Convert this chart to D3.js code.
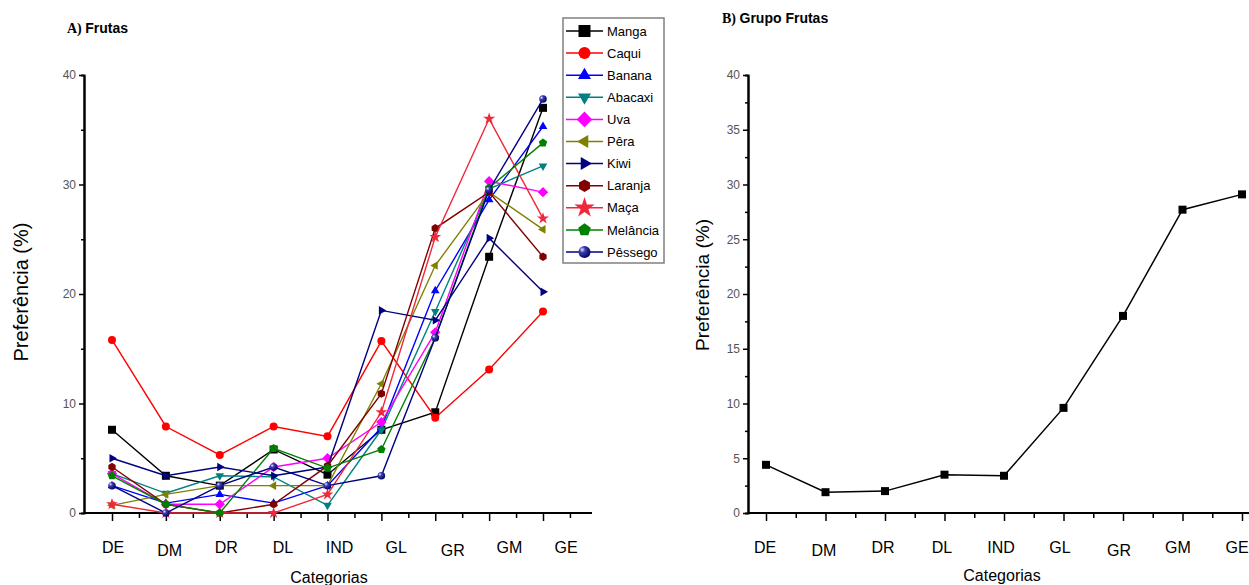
<!DOCTYPE html>
<html>
<head>
<meta charset="utf-8">
<script src="https://cdn.jsdelivr.net/npm/d3@7"></script>
<style>
  body { margin: 0; background: #fff; }
  svg { font-family: "Liberation Sans", Arial, sans-serif; }
</style>
</head>
<body>
<div id="main"></div>
<script>
// categories on the x axis (both panels)
const categories = ["DE", "DM", "DR", "DL", "IND", "GL", "GR", "GM", "GE"];

// panel A: preference (%) per fruit, one value per category
const fruitNames = ["Manga", "Caqui", "Banana", "Abacaxi", "Uva", "Pêra", "Kiwi", "Laranja", "Maça", "Melância", "Pêssego"];
const manga    = [7.6, 3.4, 2.5, 5.8, 3.5, 7.6, 9.2, 23.4, 37.0];
const caqui    = [15.8, 7.9, 5.3, 7.9, 7.0, 15.7, 8.7, 13.1, 18.4];
const banana   = [2.5, 0.9, 1.7, 0.9, 2.5, 7.8, 20.3, 28.6, 35.3];
const abacaxi  = [3.6, 1.8, 3.4, 3.3, 0.7, 7.6, 18.4, 29.6, 31.7];
const uva      = [3.6, 0.8, 0.8, 4.2, 5.0, 8.3, 16.5, 30.3, 29.3];
const pera     = [0.7, 1.7, 2.5, 2.5, 2.5, 11.8, 22.6, 29.3, 25.9];
const kiwi     = [5.0, 3.4, 4.2, 3.4, 4.2, 18.5, 17.6, 25.1, 20.2];
const laranja  = [4.2, 0.8, 0.0, 0.8, 4.3, 10.9, 26.0, 29.3, 23.4];
const maca     = [0.8, 0.0, 0.0, 0.0, 1.7, 9.2, 25.2, 36.0, 26.9];
const melancia = [3.4, 0.8, 0.0, 5.9, 4.1, 5.8, 16.0, 29.7, 33.8];
const pessego  = [2.5, 0.0, 2.5, 4.2, 2.5, 3.4, 16.0, 29.5, 37.8];

// panel B: fruit group
const grupoFrutas = [4.4, 1.9, 2.0, 3.5, 3.4, 9.6, 18.0, 27.7, 29.1];

// y axis ticks
const yMajorA = [0, 10, 20, 30, 40];
const yMinorA = [5, 15, 25, 35];
const yMajorB = [0, 5, 10, 15, 20, 25, 30, 35, 40];
const yMinorB = [2.5, 7.5, 12.5, 17.5, 22.5, 27.5, 32.5, 37.5];

const seriesValues = [manga, caqui, banana, abacaxi, uva, pera, kiwi, laranja, maca, melancia, pessego];
const seriesColors = ["#000000", "#ff0000", "#0000ff", "#008080", "#ff00ff", "#808000",
                      "#000080", "#800000", "#f0283c", "#008000", "#000080"];
const seriesShapes = ["square", "circle", "triUp", "triDown", "diamond", "triLeft",
                      "triRight", "hexagon", "star", "pentagon", "sphere"];

const width = 1249, height = 585;

const svg = d3.select("#main").append("svg")
    .attr("width", width)
    .attr("height", height);

const defs = svg.append("defs");
const grad = defs.append("radialGradient")
    .attr("id", "sphere")
    .attr("cx", "0.35").attr("cy", "0.35").attr("r", "0.7")
    .attr("fx", "0.3").attr("fy", "0.3");
grad.append("stop").attr("offset", "0").attr("stop-color", "#e8e8ff");
grad.append("stop").attr("offset", "0.35").attr("stop-color", "#3a3ab0");
grad.append("stop").attr("offset", "1").attr("stop-color", "#000060");

function polygon(n, R, rotDeg) {
    const p = d3.path();
    for (let k = 0; k < n; k++) {
        const a = (rotDeg + k * 360 / n) * Math.PI / 180;
        const px = R * Math.cos(a), py = R * Math.sin(a);
        if (k === 0) p.moveTo(px, py); else p.lineTo(px, py);
    }
    p.closePath();
    return p.toString();
}

function shapePath(kind, s) {
    const r = s / 2;
    switch (kind) {
        case "square": return d3.symbol(d3.symbolSquare, s * s)();
        case "circle":
        case "sphere": return d3.symbol(d3.symbolCircle, Math.PI * r * r)();
        case "triUp": return polygon(3, r * 1.25, -90);
        case "triDown": return polygon(3, r * 1.25, 90);
        case "triLeft": return polygon(3, r * 1.25, 180);
        case "triRight": return polygon(3, r * 1.25, 0);
        case "diamond": return polygon(4, r * 1.3, -90);
        case "hexagon": return polygon(6, r * 1.05, -90);
        case "pentagon": return polygon(5, r * 1.1, -90);
        case "star": return d3.symbol(d3.symbolStar, s * s * 0.9)();
    }
}

function drawPanel(cfg) {
    const g = svg.append("g");
    const x = d3.scaleLinear().domain([1, 9]).range([cfg.first, cfg.last]);
    const y = d3.scaleLinear().domain([0, 40]).range([cfg.bottom, cfg.top]);

    // x axis: major ticks at categories, minor ticks between
    g.append("line")
        .attr("x1", cfg.axisX).attr("x2", cfg.axisEnd)
        .attr("y1", cfg.bottom).attr("y2", cfg.bottom)
        .attr("stroke", "#000").attr("stroke-width", 2);
    const xAx = g.append("g").attr("transform", `translate(0,${cfg.bottom})`);
    xAx.call(d3.axisBottom(x).tickValues(d3.range(1, 10)).tickSize(8).tickSizeOuter(0).tickFormat(""));
    xAx.append("g").call(d3.axisBottom(x).tickValues(d3.range(1.5, cfg.lastMinor + 0.01, 1)).tickSize(5).tickFormat(""));
    xAx.selectAll(".domain").remove();
    xAx.selectAll("line").attr("stroke", "#000").attr("stroke-width", 1.5);

    // category labels (placed a bit irregularly, as in the original)
    const lx = d3.scaleLinear().domain([1, 9]).range(cfg.labelRange);
    g.selectAll(".cat")
        .data(categories)
        .join("text")
        .attr("x", (d, i) => lx(i + 1))
        .attr("y", (d) => cfg.labelY + (d === "DM" || d === "GR" ? 3 : 0))
        .attr("text-anchor", "middle")
        .attr("font-size", 16)
        .text(d => d);

    // y axis
    const yAx = g.append("g").attr("transform", `translate(${cfg.axisX},0)`);
    yAx.call(d3.axisLeft(y).tickValues(cfg.yMajor).tickSize(5).tickSizeOuter(0).tickPadding(3));
    yAx.append("g").call(d3.axisLeft(y).tickValues(cfg.yMinor).tickSize(3).tickFormat(""));
    yAx.selectAll(".domain").attr("stroke", "#000").attr("stroke-width", 2);
    yAx.selectAll("line").attr("stroke", "#000").attr("stroke-width", 1.5);
    yAx.selectAll("text")
        .attr("font-size", 12)
        .attr("fill", "#555")
        .attr("font-family", "Liberation Sans, Arial, sans-serif");

    // titles
    g.append("text")
        .attr("transform", `translate(${cfg.yTitleX},${cfg.yTitleY}) rotate(-90)`)
        .attr("text-anchor", "middle")
        .attr("font-size", cfg.yTitleSize)
        .text("Preferência (%)");
    g.append("text")
        .attr("x", cfg.xTitleX).attr("y", cfg.xTitleY)
        .attr("text-anchor", "middle")
        .attr("font-size", 16)
        .text("Categorias");
    const t = g.append("text")
        .attr("x", cfg.titleX).attr("y", cfg.titleY)
        .attr("font-size", 14)
        .attr("font-weight", "bold");
    t.append("tspan").attr("font-family", "Liberation Serif, serif").text(cfg.titleTag + " ");
    t.append("tspan").text(cfg.title);

    return { g, x, y };
}

// ---- Panel A ----
const A = drawPanel({
    first: 112, last: 543, axisX: 84, axisEnd: 592, lastMinor: 9.5,
    top: 75, bottom: 513,
    labelRange: [113, 566], labelY: 553,
    yMajor: yMajorA, yMinor: yMinorA,
    yTitleX: 28, yTitleY: 292, yTitleSize: 20,
    xTitleX: 329, xTitleY: 583,
    titleX: 67, titleY: 33, titleTag: "A)", title: "Frutas"
});

const markerSizeA = { star: 7, sphere: 7.5 };
const lineA = d3.line().x((d, i) => A.x(i + 1)).y(d => A.y(d));
seriesValues.forEach((vals, s) => {
    const sg = A.g.append("g");
    sg.append("path")
        .attr("d", lineA(vals))
        .attr("fill", "none")
        .attr("stroke", seriesColors[s])
        .attr("stroke-width", 1.4);
    sg.selectAll("path.m")
        .data(vals)
        .join("path")
        .attr("class", "m")
        .attr("transform", (d, i) => `translate(${A.x(i + 1)},${A.y(d)})`)
        .attr("d", shapePath(seriesShapes[s], markerSizeA[seriesShapes[s]] || 8))
        .attr("fill", seriesShapes[s] === "sphere" ? "url(#sphere)" : seriesColors[s]);
});

// legend
const legend = svg.append("g").attr("transform", "translate(563,18)");
legend.append("rect")
    .attr("width", 101).attr("height", 245)
    .attr("fill", "#fff")
    .attr("stroke", "#808080")
    .attr("stroke-width", 1.5);
const entries = legend.selectAll("g.e")
    .data(fruitNames)
    .join("g")
    .attr("class", "e")
    .attr("transform", (d, i) => `translate(0,${13 + i * 22.1})`);
entries.append("line")
    .attr("x1", 3).attr("x2", 40)
    .attr("stroke", (d, i) => seriesColors[i])
    .attr("stroke-width", 1.5);
entries.append("path")
    .attr("transform", "translate(21.5,0)")
    .attr("d", (d, i) => shapePath(seriesShapes[i], 12))
    .attr("fill", (d, i) => seriesShapes[i] === "sphere" ? "url(#sphere)" : seriesColors[i]);
entries.append("text")
    .attr("x", 44)
    .attr("dy", "0.36em")
    .attr("font-size", 13)
    .text(d => d);

// ---- Panel B ----
const B = drawPanel({
    first: 766, last: 1242, axisX: 748, axisEnd: 1252, lastMinor: 9.5,
    top: 75, bottom: 513,
    labelRange: [765, 1237], labelY: 553,
    yMajor: yMajorB, yMinor: yMinorB,
    yTitleX: 709, yTitleY: 285, yTitleSize: 19,
    xTitleX: 1002, xTitleY: 581,
    titleX: 722, titleY: 23, titleTag: "B)", title: "Grupo Frutas"
});

const lineB = d3.line().x((d, i) => B.x(i + 1)).y(d => B.y(d));
B.g.append("path")
    .attr("d", lineB(grupoFrutas))
    .attr("fill", "none")
    .attr("stroke", "#000")
    .attr("stroke-width", 1.5);
B.g.selectAll("path.m")
    .data(grupoFrutas)
    .join("path")
    .attr("class", "m")
    .attr("transform", (d, i) => `translate(${B.x(i + 1)},${B.y(d)})`)
    .attr("d", shapePath("square", 8))
    .attr("fill", "#000");
</script>
</body>
</html>
